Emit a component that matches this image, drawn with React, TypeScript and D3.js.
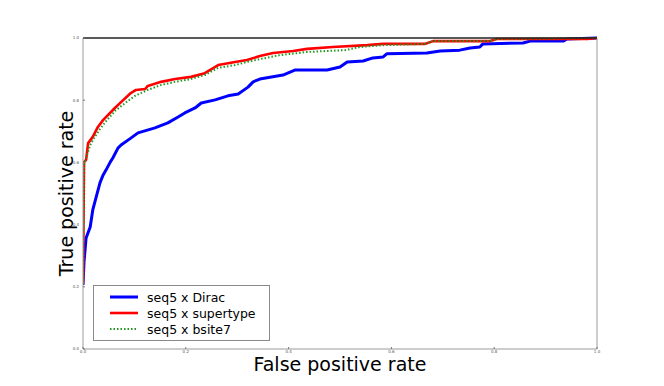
import React, { useEffect, useRef } from 'react'
import * as d3 from 'd3'

// ROC points, [fpr, tpr]
const diracFpr = [0, 0.002, 0.006, 0.014, 0.019, 0.033, 0.039, 0.045, 0.053, 0.058, 0.068, 0.074, 0.093, 0.107, 0.14, 0.165, 0.185, 0.198, 0.218, 0.23, 0.257, 0.282, 0.302, 0.321, 0.331, 0.344, 0.389, 0.412, 0.475, 0.5, 0.514, 0.545, 0.564, 0.584, 0.591, 0.669, 0.695, 0.733, 0.753, 0.772, 0.778, 0.856, 0.87, 0.934, 0.942, 1]
const diracTpr = [0.206, 0.28, 0.357, 0.392, 0.447, 0.534, 0.559, 0.576, 0.601, 0.614, 0.646, 0.656, 0.678, 0.695, 0.711, 0.727, 0.746, 0.759, 0.775, 0.791, 0.801, 0.814, 0.82, 0.842, 0.859, 0.868, 0.881, 0.897, 0.897, 0.907, 0.923, 0.926, 0.936, 0.939, 0.949, 0.952, 0.958, 0.961, 0.968, 0.971, 0.981, 0.984, 0.99, 0.99, 0.997, 1]

const supertypeFpr = [0, 0.002, 0.006, 0.01, 0.019, 0.029, 0.039, 0.062, 0.074, 0.093, 0.103, 0.121, 0.126, 0.152, 0.179, 0.21, 0.237, 0.263, 0.296, 0.319, 0.344, 0.37, 0.409, 0.436, 0.486, 0.553, 0.584, 0.665, 0.681, 0.792, 0.805, 0.981, 1]
const supertypeTpr = [0.209, 0.601, 0.608, 0.662, 0.682, 0.714, 0.736, 0.775, 0.794, 0.823, 0.833, 0.836, 0.846, 0.859, 0.868, 0.875, 0.887, 0.913, 0.923, 0.929, 0.942, 0.952, 0.958, 0.965, 0.971, 0.977, 0.981, 0.981, 0.99, 0.99, 0.997, 0.997, 1]

const bsiteFpr = [0, 0.002, 0.008, 0.014, 0.023, 0.033, 0.045, 0.062, 0.082, 0.101, 0.126, 0.152, 0.179, 0.21, 0.237, 0.263, 0.296, 0.319, 0.344, 0.383, 0.436, 0.51, 0.539, 0.584, 0.665, 0.681, 0.792, 0.805, 1]
const bsiteTpr = [0.209, 0.592, 0.624, 0.656, 0.682, 0.707, 0.733, 0.765, 0.791, 0.814, 0.833, 0.849, 0.859, 0.868, 0.881, 0.904, 0.913, 0.923, 0.932, 0.945, 0.955, 0.961, 0.971, 0.977, 0.981, 0.99, 0.99, 0.997, 1]

const seriesNames = ['seq5 x Dirac', 'seq5 x supertype', 'seq5 x bsite7']
const tickValues = [0, 0.2, 0.4, 0.6, 0.8, 1.0]

const App = () => {
  const ref = useRef<SVGSVGElement>(null)

  useEffect(() => {
    const width = 664
    const height = 386
    const left = 83
    const right = 597
    const top = 38
    const bottom = 349
    const font = 'DejaVu Sans, sans-serif'

    const svg = d3.select(ref.current)
    svg.selectAll('*').remove()
    svg.attr('width', width).attr('height', height)

    svg.append('rect').attr('width', width).attr('height', height).attr('fill', '#fff')

    const x = d3.scaleLinear().domain([0, 1]).range([left, right])
    const y = d3.scaleLinear().domain([0, 1]).range([bottom, top])

    const series = [
      { name: seriesNames[0], xs: diracFpr, ys: diracTpr, color: '#0000ff', width: 3, dash: null },
      { name: seriesNames[1], xs: supertypeFpr, ys: supertypeTpr, color: '#ff0000', width: 2.6, dash: null },
      { name: seriesNames[2], xs: bsiteFpr, ys: bsiteTpr, color: '#1f9a1f', width: 2, dash: '1.5,2' },
    ]

    const line = d3
      .line<[number, number]>()
      .x((d) => x(d[0]))
      .y((d) => y(d[1]))

    const clip = svg.append('clipPath').attr('id', 'plotclip')
    clip.append('rect').attr('x', left).attr('y', top - 2).attr('width', right - left + 2).attr('height', bottom - top + 2)

    const plot = svg.append('g').attr('clip-path', 'url(#plotclip)')
    series.forEach((s) => {
      const pts = s.xs.map((v, i) => [v, s.ys[i]] as [number, number])
      plot
        .append('path')
        .attr('d', line(pts))
        .attr('fill', 'none')
        .attr('stroke', s.color)
        .attr('stroke-width', s.width)
        .attr('stroke-linejoin', 'round')
        .attr('stroke-dasharray', s.dash)
    })

    // spines
    const spine = svg.append('g').attr('fill', 'none')
    spine.append('line').attr('x1', left).attr('x2', left).attr('y1', top).attr('y2', bottom).attr('stroke', '#9a9a9a')
    spine.append('line').attr('x1', right).attr('x2', right).attr('y1', top).attr('y2', bottom).attr('stroke', '#9a9a9a')
    spine.append('line').attr('x1', left).attr('x2', right).attr('y1', bottom).attr('y2', bottom).attr('stroke', '#9a9a9a')
    spine.append('line').attr('x1', left).attr('x2', right).attr('y1', top).attr('y2', top).attr('stroke', '#222').attr('stroke-width', 1.5)

    // ticks
    const ticks = svg.append('g').attr('font-family', font).attr('font-size', 4).attr('fill', '#555')
    tickValues.forEach((t) => {
      ticks.append('line').attr('x1', x(t)).attr('x2', x(t)).attr('y1', bottom).attr('y2', bottom - 2).attr('stroke', '#777')
      ticks.append('text').attr('x', x(t)).attr('y', bottom + 4).attr('text-anchor', 'middle').text(t.toFixed(1))
      ticks.append('line').attr('x1', left).attr('x2', left + 2).attr('y1', y(t)).attr('y2', y(t)).attr('stroke', '#777')
      ticks.append('text').attr('x', left - 4).attr('y', y(t) + 1.4).attr('text-anchor', 'end').text(t.toFixed(1))
    })

    // axis labels
    svg
      .append('text')
      .attr('x', (left + right) / 2)
      .attr('y', 371)
      .attr('text-anchor', 'middle')
      .attr('font-family', font)
      .attr('font-size', 19)
      .attr('fill', '#000')
      .text('False positive rate')
    svg
      .append('text')
      .attr('transform', `translate(73, ${(top + bottom) / 2}) rotate(-90)`)
      .attr('text-anchor', 'middle')
      .attr('font-family', font)
      .attr('font-size', 19)
      .attr('fill', '#000')
      .text('True positive rate')

    // legend
    const legend = svg.append('g')
    legend
      .append('rect')
      .attr('x', 93.5)
      .attr('y', 285.5)
      .attr('width', 176)
      .attr('height', 55)
      .attr('fill', '#fff')
      .attr('stroke', '#8a8a8a')
    series.forEach((s, i) => {
      const ly = 297 + i * 16
      legend
        .append('line')
        .attr('x1', 110)
        .attr('x2', 138)
        .attr('y1', ly)
        .attr('y2', ly)
        .attr('stroke', s.color)
        .attr('stroke-width', s.width)
        .attr('stroke-dasharray', s.dash)
      legend
        .append('text')
        .attr('x', 147)
        .attr('y', ly + 4.5)
        .attr('font-family', font)
        .attr('font-size', 12.5)
        .attr('fill', '#000')
        .text(s.name)
    })
  }, [])

  return <svg ref={ref} style={{ position: 'absolute', left: 0, top: 0 }} />
}

export default App
